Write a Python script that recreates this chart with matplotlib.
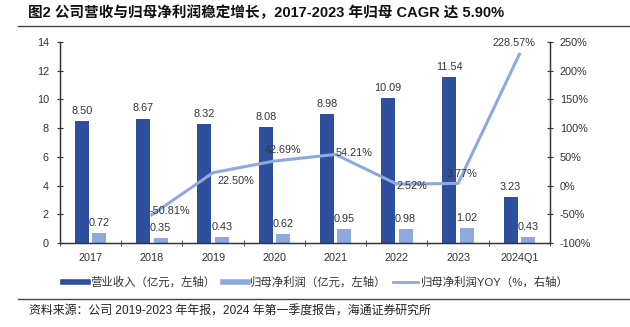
import matplotlib
matplotlib.use("Agg")
import matplotlib.pyplot as plt
from matplotlib.lines import Line2D
import numpy as np

plt.rcParams['font.family'] = ['Liberation Sans', 'Noto Sans CJK SC', 'DejaVu Sans']

categories = ["2017", "2018", "2019", "2020", "2021", "2022", "2023", "2024Q1"]
revenue = [8.50, 8.67, 8.32, 8.08, 8.98, 10.09, 11.54, 3.23]
net_profit = [0.72, 0.35, 0.43, 0.62, 0.95, 0.98, 1.02, 0.43]
yoy = [None, -50.81, 22.50, 42.69, 54.21, 2.52, 3.77, 228.57]

title = "图2 公司营收与归母净利润稳定增长，2017-2023 年归母 CAGR 达 5.90%"
source = "资料来源：公司 2019-2023 年年报，2024 年第一季度报告，海通证券研究所"
legend_labels = ["营业收入（亿元，左轴）", "归母净利润（亿元，左轴）", "归母净利润YOY（%，右轴）"]

c_dark = "#2E4F9E"
c_light = "#8EAADC"
c_line = "#8EAADC"
txt = "#333333"

fig = plt.figure(figsize=(6.3, 3.27), dpi=100)
ax = fig.add_axes([0.0952, 0.2569, 0.873 - 0.0952, 0.8716 - 0.2569])
ax2 = ax.twinx()

x = np.arange(len(categories))
w = 0.23
off = 0.142
ax.bar(x - off, revenue, width=w, color=c_dark, zorder=2)
ax.bar(x + off, net_profit, width=w, color=c_light, zorder=2)

fs = 7.8
for xi, v in zip(x, revenue):
    ax.text(xi - off, v + 0.35, f"{v:.2f}", ha="center", va="bottom", fontsize=fs, color=txt)
for xi, v in zip(x, net_profit):
    ax.text(xi + off, v + 0.35, f"{v:.2f}", ha="center", va="bottom", fontsize=fs, color=txt)

ax.set_xlim(-0.5, len(categories) - 0.5)
ax.set_ylim(0, 14)
ax.set_yticks(np.arange(0, 15, 2))
ax.set_xticks(x)
ax.set_xticklabels(categories)
ax.set_xticks(np.arange(-0.5, len(categories), 1), minor=True)
ax.tick_params(axis="x", which="major", length=0, labelsize=fs, colors=txt, pad=7)
ax.tick_params(axis="x", which="minor", length=4, direction="inout", color="#333333")
ax.tick_params(axis="y", length=4, direction="inout", labelsize=fs, colors="#333333", labelcolor=txt, pad=6)

lx = [xi for xi, v in zip(x, yoy) if v is not None]
ly = [v for v in yoy if v is not None]
ax2.plot(lx, ly, color=c_line, lw=2.2, zorder=3)
ax2.set_ylim(-100, 250)
ax2.set_yticks(np.arange(-100, 251, 50))
ax2.set_yticklabels([f"{t}%" for t in range(-100, 251, 50)])
ax2.tick_params(axis="y", length=4, direction="inout", labelsize=fs, colors="#333333", labelcolor=txt, pad=5)

offsets = [(13, 3), (16.5, -6), (6, 8), (13, 1), (11, -1), (3, 7), (-4, 8)]
for xi, v, (dx, dy) in zip(lx, ly, offsets):
    ax2.annotate(f"{v:.2f}%", (xi, v), xytext=(dx, dy), textcoords="offset points",
                 ha="center", va="center", fontsize=fs, color=txt)

for a in (ax, ax2):
    a.spines["top"].set_visible(False)
    for s in ("left", "right", "bottom"):
        a.spines[s].set_color("#333333")
        a.spines[s].set_linewidth(0.9)

handles = [Line2D([0], [0], color=c_dark, lw=4),
           Line2D([0], [0], color=c_light, lw=4),
           Line2D([0], [0], color=c_line, lw=2)]
fig.legend(handles, legend_labels, loc="center", bbox_to_anchor=(316 / 630, 1 - 282 / 327),
           ncol=3, frameon=False, fontsize=8.2, handlelength=2.2, columnspacing=0.6,
           handletextpad=0.2, labelcolor=txt)

fig.text(28 / 630, 1 - 13 / 327, title, fontsize=10.5, fontweight="bold", va="center", ha="left", color="#111111")
fig.add_artist(Line2D([18 / 630, 1], [1 - 26 / 327] * 2, color="#444444", lw=1.0, transform=fig.transFigure))
fig.add_artist(Line2D([18 / 630, 1], [1 - 299 / 327] * 2, color="#444444", lw=1.0, transform=fig.transFigure))
fig.text(29 / 630, 1 - 312 / 327, source, fontsize=8.6, va="center", ha="left", color="#222222")

fig.savefig("out.png", dpi=100)
